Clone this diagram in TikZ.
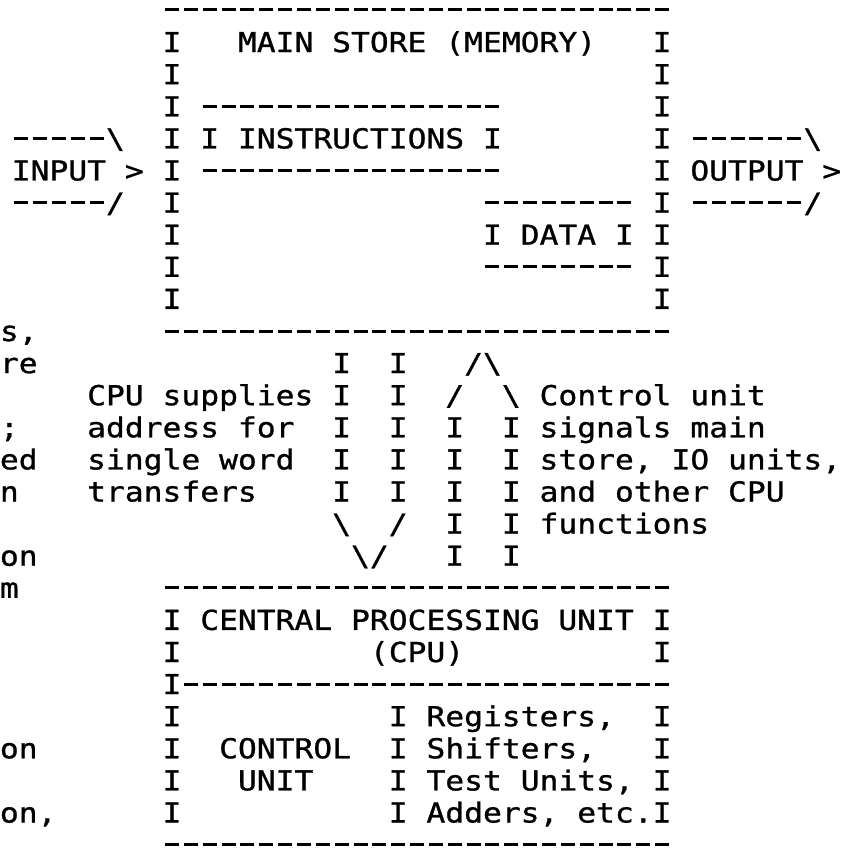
\documentclass[tikz,border=0pt]{standalone}
\usepackage{fontspec}
\newfontfamily\linefont{DejaVu Sans Mono}[FakeStretch=1.1385,FakeBold=1]
\newcommand\asciifont{\linefont\fontsize{27.5pt}{32pt}\selectfont}
\frenchspacing

\begin{document}
\begin{tikzpicture}[x=18.85pt,y=-32.1pt,
    ch/.style={anchor=base west,inner sep=0pt,outer sep=0pt,xshift=-9.425pt,yshift=-10pt,font=\asciifont},
    cut/.style={ch,xshift=7pt},
    rule/.style={line width=3pt,dash pattern=on 14pt off 4.85pt}]
    \useasboundingbox (-9.125,0.6885) rectangle (35.49,27.137);
    \foreach \r/\a/\b in {1/0/26, 4/2/17, 5/-8/-4, 5/28/33, 6/2/17, 7/-8/-4, 7/17/24, 7/28/33,
        9/17/24, 11/0/26, 19/0/26, 22/1/26, 27/0/26}
        \draw[rule] ([xshift=-7pt]\a,\r) -- ([xshift=7pt]\b,\r);
    \foreach \r in {2,...,10}{
        \node[ch] (msl\r) at (0,\r) {I};
        \node[ch] (msr\r) at (26,\r) {I};
    }
    \foreach \r in {20,...,26}
        \node[ch] (cpl\r) at (0,\r) {I};
    \foreach \r in {20,21,23,24,25,26}
        \node[ch] (cpr\r) at (26,\r) {I};
    \foreach \r in {23,...,26}
        \node[ch] (cpm\r) at (12,\r) {I};
    \foreach \r in {12,...,16}{
        \node[ch] (adl\r) at (9,\r) {I};
        \node[ch] (adr\r) at (12,\r) {I};
    }
    \foreach \r in {14,...,18}{
        \node[ch] (ctl\r) at (15,\r) {I};
        \node[ch] (ctr\r) at (18,\r) {I};
    }
    \node[ch] (store) at (4,2) {MAIN STORE (MEMORY)};
    \node[ch] (insl) at (2,5) {I};
    \node[ch] (instr) at (4,5) {INSTRUCTIONS};
    \node[ch] (insr) at (17,5) {I};
    \node[ch] (datl) at (17,8) {I};
    \node[ch] (data) at (19,8) {DATA};
    \node[ch] (datr) at (24,8) {I};
    \node[ch] (intop) at (-3,5) {\textbackslash};
    \node[ch] (input) at (-8,6) {INPUT >};
    \node[ch] (inbot) at (-3,7) {/};
    \node[ch] (outtop) at (34,5) {\textbackslash};
    \node[ch] (output) at (28,6) {OUTPUT >};
    \node[ch] (outbot) at (34,7) {/};
    \node[ch] (adtip1) at (9,17) {\textbackslash};
    \node[ch] (adtip2) at (12,17) {/};
    \node[ch] (adtip) at (10,18) {\textbackslash/};
    \node[ch] (cttip) at (16,12) {/\textbackslash};
    \node[ch] (cttip1) at (15,13) {/};
    \node[ch] (cttip2) at (18,13) {\textbackslash};
    \node[ch] (ad1) at (-4,13) {CPU supplies};
    \node[ch] (ad2) at (-4,14) {address for};
    \node[ch] (ad3) at (-4,15) {single word};
    \node[ch] (ad4) at (-4,16) {transfers};
    \node[ch] (ct1) at (20,13) {Control unit};
    \node[ch] (ct2) at (20,14) {signals main};
    \node[ch] (ct3) at (20,15) {store, IO units,};
    \node[ch] (ct4) at (20,16) {and other CPU};
    \node[ch] (ct5) at (20,17) {functions};
    \node[ch] (cpu) at (2,20) {CENTRAL PROCESSING UNIT};
    \node[ch] (cpuab) at (11,21) {(CPU)};
    \node[ch] (cu1) at (3,24) {CONTROL};
    \node[ch] (cu2) at (4,25) {UNIT};
    \node[ch] (reg1) at (14,23) {Registers,};
    \node[ch] (reg2) at (14,24) {Shifters,};
    \node[ch] (reg3) at (14,25) {Test Units,};
    \node[ch] (reg4) at (14,26) {Adders, etc.};
    \node[cut] (cut11) at (-9,11) {s,};
    \node[cut] (cut12) at (-9,12) {re};
    \node[cut] (cut14) at (-9,14) {;};
    \node[cut] (cut15) at (-9,15) {ed};
    \node[cut] (cut16) at (-9,16) {n};
    \node[cut] (cut18) at (-9,18) {on};
    \node[cut] (cut19) at (-9,19) {m};
    \node[cut] (cut24) at (-9,24) {on};
    \node[cut] (cut26) at (-9,26) {on,};
\end{tikzpicture}
\end{document}
